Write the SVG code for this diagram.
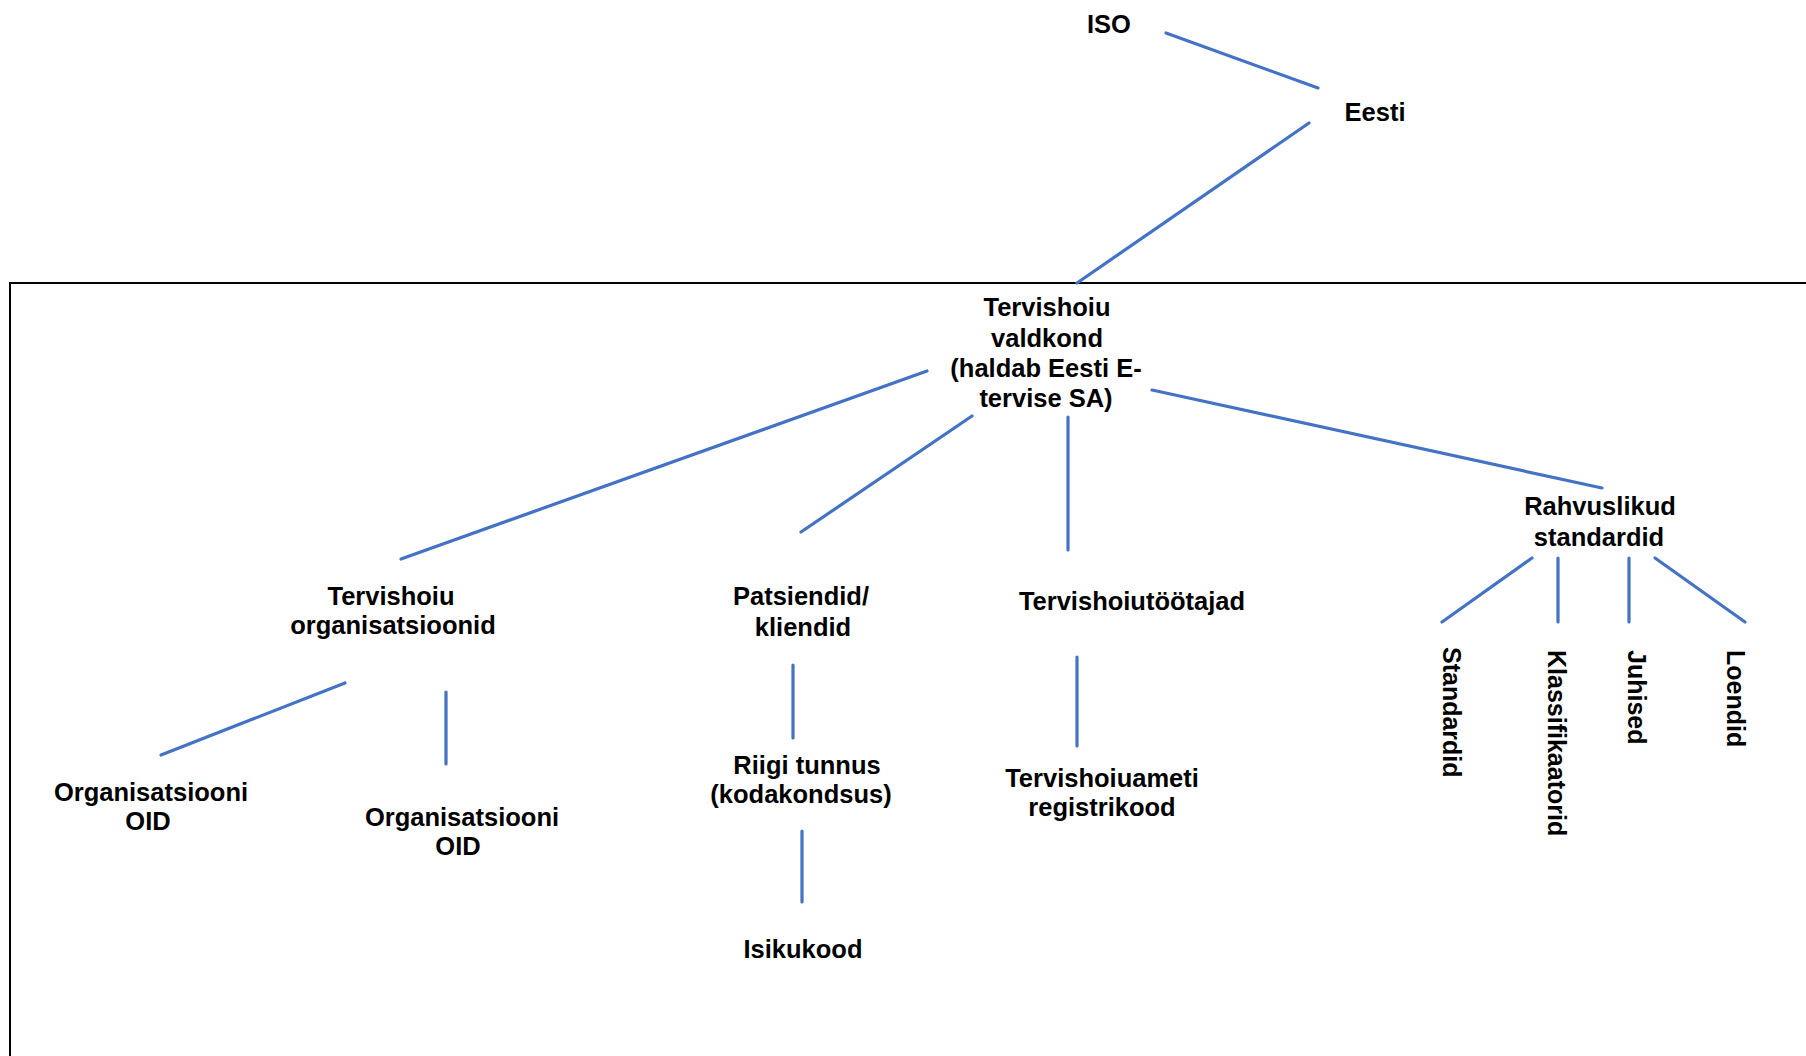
<svg xmlns="http://www.w3.org/2000/svg" width="1806" height="1056" viewBox="0 0 1806 1056">
<style>
text{font-family:"Liberation Sans",Arial,sans-serif;font-weight:bold;font-size:25.5px;fill:#000;text-anchor:middle}
.v{text-anchor:start;font-size:25px}
.c line{stroke:#4472C4;stroke-width:3.2;stroke-linecap:round}
</style>
<rect x="0" y="0" width="1806" height="1056" fill="#fff"/>
<rect id="frame" x="10" y="283" width="1830" height="800" fill="none" stroke="#000" stroke-width="2"/>
<g class="c" id="connectors">
<line x1="1166" y1="33" x2="1318" y2="88"/>
<line x1="1309" y1="123" x2="1077" y2="283"/>
<line x1="927" y1="371" x2="401" y2="559"/>
<line x1="972" y1="416" x2="801" y2="532"/>
<line x1="1068" y1="417" x2="1068" y2="550"/>
<line x1="1152" y1="390" x2="1602" y2="488"/>
<line x1="345" y1="683" x2="161" y2="755"/>
<line x1="446" y1="692" x2="446" y2="764"/>
<line x1="793" y1="665" x2="793" y2="738"/>
<line x1="802" y1="831" x2="802" y2="902"/>
<line x1="1077" y1="657" x2="1077" y2="746"/>
<line x1="1532" y1="558" x2="1442" y2="622"/>
<line x1="1558" y1="558" x2="1558" y2="622"/>
<line x1="1629" y1="558" x2="1629" y2="622"/>
<line x1="1655" y1="558" x2="1745" y2="622"/>
</g>
<g id="iso"><text x="1109" y="33">ISO</text></g>
<g id="eesti"><text x="1375" y="121">Eesti</text></g>
<g id="tervishoiu-valdkond">
<text x="1047" y="316">Tervishoiu</text>
<text x="1047" y="347">valdkond</text>
<text x="1046" y="377">(haldab Eesti E-</text>
<text x="1046" y="407">tervise SA)</text>
</g>
<g id="tervishoiu-org">
<text x="391" y="605">Tervishoiu</text>
<text x="393" y="634">organisatsioonid</text>
</g>
<g id="patsiendid">
<text x="801" y="605">Patsiendid/</text>
<text x="803" y="636">kliendid</text>
</g>
<g id="tervishoiutootajad"><text x="1132" y="610">Tervishoiutöötajad</text></g>
<g id="rahvuslikud">
<text x="1600" y="515">Rahvuslikud</text>
<text x="1599" y="546">standardid</text>
</g>
<g id="org-oid-1">
<text x="151" y="801">Organisatsiooni</text>
<text x="148" y="830">OID</text>
</g>
<g id="org-oid-2">
<text x="462" y="826">Organisatsiooni</text>
<text x="458" y="855">OID</text>
</g>
<g id="riigi-tunnus">
<text x="807" y="774">Riigi tunnus</text>
<text x="801" y="803">(kodakondsus)</text>
</g>
<g id="isikukood"><text x="803" y="958">Isikukood</text></g>
<g id="tervishoiuameti">
<text x="1102" y="787">Tervishoiuameti</text>
<text x="1102" y="816">registrikood</text>
</g>
<g id="standardid"><text class="v" transform="translate(1443,647) rotate(90)">Standardid</text></g>
<g id="klassifikaatorid"><text class="v" transform="translate(1548,650) rotate(90)">Klassifikaatorid</text></g>
<g id="juhised"><text class="v" transform="translate(1628,650) rotate(90)">Juhised</text></g>
<g id="loendid"><text class="v" transform="translate(1727,650) rotate(90)">Loendid</text></g>
</svg>
